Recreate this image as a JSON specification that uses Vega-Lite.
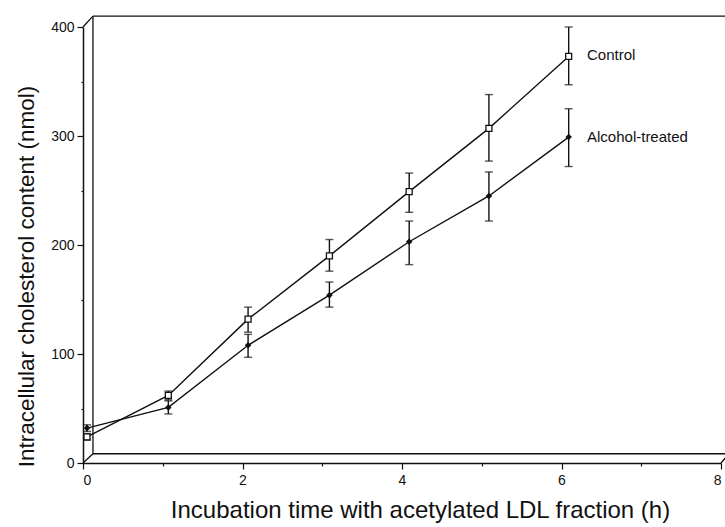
{
  "$schema": "https://vega.github.io/schema/vega-lite/v6.json",
  "width": 638,
  "height": 436,
  "autosize": {"type": "none"},
  "padding": {"left": 83, "top": 27, "right": 4, "bottom": 64},
  "background": "white",
  "config": {
    "view": {"stroke": null},
    "font": "Liberation Sans",
    "axis": {"grid": false, "domainColor": "#111", "domainWidth": 1.5, "tickColor": "#111", "tickWidth": 1.2, "labelColor": "#111", "titleColor": "#111", "labelFont": "Liberation Sans", "titleFont": "Liberation Sans", "titleFontWeight": "normal"}
  },
  "datasets": {
    "pts": [
      {"series": "Control", "t": 0.05, "mean": 24, "lo": 21, "hi": 27},
      {"series": "Control", "t": 1.07, "mean": 62, "lo": 58, "hi": 66},
      {"series": "Control", "t": 2.07, "mean": 132, "lo": 120, "hi": 143},
      {"series": "Control", "t": 3.09, "mean": 190, "lo": 176, "hi": 205},
      {"series": "Control", "t": 4.09, "mean": 249, "lo": 230, "hi": 266},
      {"series": "Control", "t": 5.09, "mean": 307, "lo": 277, "hi": 338},
      {"series": "Control", "t": 6.09, "mean": 373, "lo": 347, "hi": 400},
      {"series": "Alcohol-treated", "t": 0.05, "mean": 32, "lo": 29, "hi": 35},
      {"series": "Alcohol-treated", "t": 1.07, "mean": 51, "lo": 45, "hi": 57},
      {"series": "Alcohol-treated", "t": 2.07, "mean": 108, "lo": 97, "hi": 118},
      {"series": "Alcohol-treated", "t": 3.09, "mean": 154, "lo": 143, "hi": 166},
      {"series": "Alcohol-treated", "t": 4.09, "mean": 203, "lo": 182, "hi": 222},
      {"series": "Alcohol-treated", "t": 5.09, "mean": 245, "lo": 222, "hi": 267},
      {"series": "Alcohol-treated", "t": 6.09, "mean": 299, "lo": 272, "hi": 325}
    ],
    "frame": [
      {"x": 0.125, "y": 8.5, "x2": 0.125, "y2": 410},
      {"x": 0.125, "y": 410, "x2": 8.2, "y2": 410},
      {"x": 0.125, "y": 8.5, "x2": 8.2, "y2": 8.5},
      {"x": 0, "y": 400, "x2": 0.125, "y2": 410},
      {"x": 0, "y": 0, "x2": 0.125, "y2": 8.5},
      {"x": 8, "y": 0, "x2": 8.1, "y2": 8.5}
    ],
    "labels": [
      {"label": "Control", "x": 6.32, "y": 374},
      {"label": "Alcohol-treated", "x": 6.32, "y": 299}
    ]
  },
  "layer": [
    {
      "data": {"name": "frame"},
      "mark": {"type": "rule", "color": "#111", "strokeWidth": 1.3, "clip": false},
      "encoding": {
        "x": {"field": "x", "type": "quantitative", "scale": {"domain": [0, 8], "nice": false},
          "axis": {"values": [0, 1, 2, 3, 4, 5, 6, 7, 8], "format": "d", "labelExpr": "datum.value % 2 === 0 ? datum.label : ''",
            "tickSize": {"condition": {"test": "datum.value % 2 === 1", "value": 3}, "value": 6},
            "labelFontSize": 14, "labelPadding": 4, "title": "Incubation time with acetylated LDL fraction (h)", "titleFontSize": 24, "titlePadding": 11, "titleX": 337}},
        "y": {"field": "y", "type": "quantitative", "scale": {"domain": [0, 400], "nice": false},
          "axis": {"values": [0, 50, 100, 150, 200, 250, 300, 350, 400], "labelExpr": "datum.value % 100 === 0 ? datum.label : ''",
            "tickSize": {"condition": {"test": "datum.value % 100 !== 0", "value": 2}, "value": 6},
            "labelFontSize": 14, "labelPadding": 3, "title": "Intracellular cholesterol content (nmol)", "titleFontSize": 22.5, "titlePadding": 12, "titleY": 249}},
        "x2": {"field": "x2"},
        "y2": {"field": "y2"}
      }
    },
    {
      "data": {"name": "pts"},
      "mark": {"type": "rule", "color": "#111", "strokeWidth": 1.4},
      "encoding": {
        "x": {"field": "t", "type": "quantitative"},
        "y": {"field": "lo", "type": "quantitative"},
        "y2": {"field": "hi"}
      }
    },
    {
      "data": {"name": "pts"},
      "mark": {"type": "tick", "orient": "horizontal", "color": "#111", "size": 8, "thickness": 1.4},
      "encoding": {
        "x": {"field": "t", "type": "quantitative"},
        "y": {"field": "lo", "type": "quantitative"}
      }
    },
    {
      "data": {"name": "pts"},
      "mark": {"type": "tick", "orient": "horizontal", "color": "#111", "size": 8, "thickness": 1.4},
      "encoding": {
        "x": {"field": "t", "type": "quantitative"},
        "y": {"field": "hi", "type": "quantitative"}
      }
    },
    {
      "data": {"name": "pts"},
      "mark": {"type": "line", "color": "#111", "strokeWidth": 1.4},
      "encoding": {
        "x": {"field": "t", "type": "quantitative"},
        "y": {"field": "mean", "type": "quantitative"},
        "detail": {"field": "series"}
      }
    },
    {
      "data": {"name": "pts"},
      "mark": {"type": "point", "opacity": 1, "strokeWidth": 1.3, "stroke": "#111"},
      "encoding": {
        "x": {"field": "t", "type": "quantitative"},
        "y": {"field": "mean", "type": "quantitative"},
        "shape": {"field": "series", "type": "nominal", "scale": {"domain": ["Control", "Alcohol-treated"], "range": ["square", "diamond"]}, "legend": null},
        "fill": {"field": "series", "type": "nominal", "scale": {"domain": ["Control", "Alcohol-treated"], "range": ["white", "#111"]}, "legend": null},
        "size": {"field": "series", "type": "nominal", "scale": {"domain": ["Control", "Alcohol-treated"], "range": [36, 22]}, "legend": null}
      }
    },
    {
      "data": {"name": "labels"},
      "mark": {"type": "text", "align": "left", "baseline": "middle", "fontSize": 15, "color": "#111", "font": "Liberation Sans"},
      "encoding": {
        "x": {"field": "x", "type": "quantitative"},
        "y": {"field": "y", "type": "quantitative"},
        "text": {"field": "label"}
      }
    }
  ]
}
